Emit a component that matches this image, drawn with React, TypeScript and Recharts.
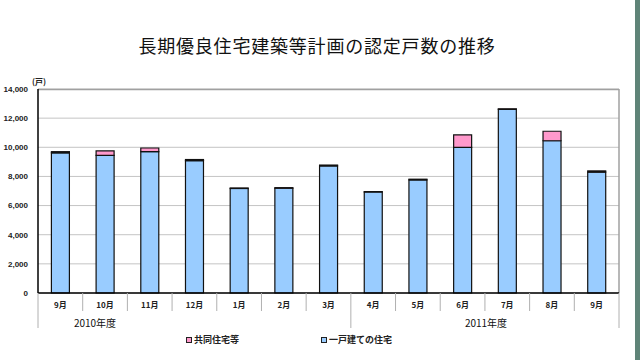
import React from 'react';
import { BarChart, Bar, XAxis, YAxis, CartesianGrid, Legend } from 'recharts';

// 2010年9月 ~ 2011年9月
const months = ['9月', '10月', '11月', '12月', '1月', '2月', '3月', '4月', '5月', '6月', '7月', '8月', '9月'];
const detachedHouses = [9620, 9450, 9700, 9080, 7170, 7190, 8720, 6930, 7760, 10000, 12600, 10450, 8300];
const collectiveHouses = [80, 300, 250, 80, 40, 40, 60, 30, 50, 850, 40, 650, 80];
const yTicks = [0, 2000, 4000, 6000, 8000, 10000, 12000, 14000];
const fiscalYears = ['2010年度', '2011年度'];
const seriesNames = { collective: '共同住宅等', detached: '一戸建ての住宅' };

const data = months.map((m, i) => ({
    month: m,
    detached: detachedHouses[i],
    collective: collectiveHouses[i],
}));

const PLOT_LEFT = 38;
const PLOT_RIGHT = 619;
const AXIS_Y = 293;
const BAND = (PLOT_RIGHT - PLOT_LEFT) / months.length;

const BLUE = '#99ccff';
const PINK = '#ff99cc';
const JP_FONT = '"Noto Sans CJK JP", "Noto Sans", sans-serif';

const MonthTick = (props: any) => {
    const { x, payload, index } = props;
    const left = x - BAND / 2;
    const isLast = index === months.length - 1;
    return (
        <g>
            <line x1={left} y1={AXIS_Y} x2={left} y2={index === 0 || index === 7 ? 328 : 311} stroke="#b0b0b0" />
            {isLast && <line x1={left + BAND} y1={AXIS_Y} x2={left + BAND} y2={328} stroke="#b0b0b0" />}
            <text x={x} y={308} textAnchor="middle" fontSize={8} fontWeight="bold" fontFamily={JP_FONT} fill="#222">
                {payload.value}
            </text>
            {index === 0 && (
                <text x={95} y={327} textAnchor="middle" fontSize={10} fontFamily={JP_FONT} fill="#111">
                    {fiscalYears[0]}
                </text>
            )}
            {index === 7 && (
                <text x={486} y={327} textAnchor="middle" fontSize={10} fontFamily={JP_FONT} fill="#111">
                    {fiscalYears[1]}
                </text>
            )}
        </g>
    );
};

const renderLegend = () => {
    const items = [
        { name: seriesNames.collective, color: PINK, left: 186 },
        { name: seriesNames.detached, color: BLUE, left: 321 },
    ];
    return (
        <div style={{ position: 'relative', height: 14 }}>
            {items.map(item => (
                <div
                    key={item.name}
                    style={{
                        position: 'absolute',
                        left: item.left,
                        top: 0,
                        display: 'flex',
                        alignItems: 'center',
                        fontSize: 9,
                        fontWeight: 'bold',
                        fontFamily: JP_FONT,
                        color: '#222',
                        whiteSpace: 'nowrap',
                    }}
                >
                    <span style={{ width: 4, height: 4, background: item.color, border: '1px solid #222', marginRight: 2 }} />
                    {item.name}
                </div>
            ))}
        </div>
    );
};

const App: React.FC = () => {
    return (
        <div style={{ position: 'fixed', left: 0, top: 0, width: 640, height: 360, background: '#ffffff', overflow: 'hidden' }}>
            <div
                style={{
                    position: 'absolute',
                    top: 32,
                    left: 0,
                    width: 634,
                    textAlign: 'center',
                    fontSize: 18,
                    fontFamily: JP_FONT,
                    color: '#111',
                    letterSpacing: 0.8,
                }}
            >
                長期優良住宅建築等計画の認定戸数の推移
            </div>
            <div style={{ position: 'absolute', left: 32, top: 76, fontSize: 8, fontFamily: JP_FONT, fontWeight: 'bold', color: '#222' }}>
                (戸)
            </div>
            <div style={{ position: 'absolute', right: 0, top: 0, width: 5, height: 360, background: '#5f8478' }} />
            <BarChart
                width={640}
                height={360}
                data={data}
                margin={{ top: 89, right: 21, left: 8, bottom: 37 }}
                barCategoryGap="30%"
            >
                <CartesianGrid vertical={false} stroke="#c4c4c4" />
                <line x1={PLOT_LEFT} y1={89.5} x2={PLOT_RIGHT} y2={89.5} stroke="#a0a0a0" strokeWidth={1.5} />
                <line x1={PLOT_RIGHT} y1={89} x2={PLOT_RIGHT} y2={AXIS_Y} stroke="#a0a0a0" strokeWidth={1.5} />
                <XAxis
                    dataKey="month"
                    height={30}
                    tick={<MonthTick />}
                    tickLine={false}
                    axisLine={{ stroke: '#000', strokeWidth: 1.5 }}
                    interval={0}
                />
                <YAxis
                    width={30}
                    domain={[0, 14000]}
                    ticks={yTicks}
                    tickFormatter={(v: number) => v.toLocaleString('en-US')}
                    tick={{ fontSize: 8, fontWeight: 'bold', fill: '#222', fontFamily: 'Arial, "Liberation Sans", sans-serif' }}
                    tickLine={false}
                    axisLine={{ stroke: '#000', strokeWidth: 1.5 }}
                    tickMargin={4}
                />
                <Legend
                    layout="horizontal"
                    verticalAlign="middle"
                    align="center"
                    content={renderLegend}
                    wrapperStyle={{ top: 333, left: 0, width: 640 }}
                />
                <Bar dataKey="detached" name={seriesNames.detached} stackId="a" fill={BLUE} stroke="#111" strokeWidth={1.2} isAnimationActive={false} />
                <Bar dataKey="collective" name={seriesNames.collective} stackId="a" fill={PINK} stroke="#111" strokeWidth={1.2} isAnimationActive={false} />
            </BarChart>
        </div>
    );
};

export default App;
